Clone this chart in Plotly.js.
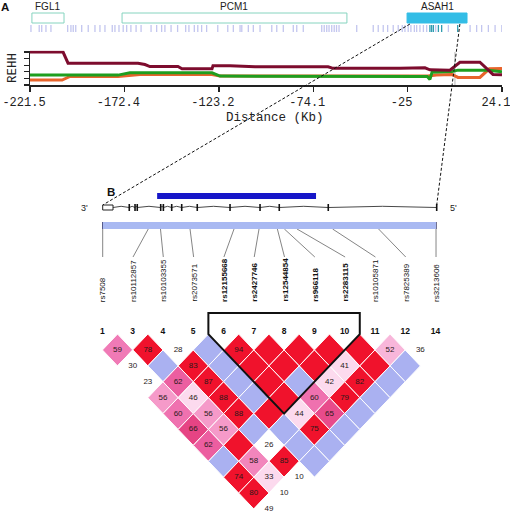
<!DOCTYPE html>
<html><head><meta charset="utf-8">
<script src="https://cdn.plot.ly/plotly-3.0.1.min.js"></script>
<style>html,body{margin:0;padding:0;background:#fff}#chart{width:510px;height:513px}</style>
</head><body><div id="chart"></div>
<script>
// ================= DATA =================
// Panel A: genes (kb from core)
const geneNames = ['FGL1', 'PCM1', 'ASAH1'];
const geneStartKb = [-220.5, -173.6, -25.3];
const geneEndKb = [-203.8, -56.6, 5.9];
const geneFilled = [false, false, true];
// SNP tick positions (kb)
const snpTickKb = [-221.0,-216.7,-215.4,-213.2,-210.6,-201.9,-200.2,-199.0,-197.7,-194.6,-191.2,-187.7,-185.1,-182.5,-178.7,-177.3,-175.2,-173.0,-171.2,-169.0,-166.3,-163.7,-158.5,-155.6,-153.0,-151.3,-148.1,-144.7,-140.5,-138.8,-136.0,-134.2,-132.2,-129.6,-123.8,-118.6,-115.7,-112.2,-111.3,-107.9,-105.3,-101.8,-95.7,-93.1,-89.7,-84.5,-82.7,-79.3,-69.7,-68.4,-67.1,-65.9,-64.5,-63.2,-62.0,-60.7,-51.5,-42.9,-40.3,-37.7,-35.4,-32.5,-29.9,-27.8,-26.4,-24.7,-23.3,-21.5,-20.3,-18.6,-16.8,-15.1,-10.4,-3.8,7.5,10.9,13.5,17.0,20.5,24.0];
const snpTickTypedKb = [-13.4, -12.5, -11.6, -9.0, -7.3, 1.05];
// Distance axis ticks
const tickKb = [-221.5, -172.4, -123.2, -74.1, -25, 24.1];
// REHH curves
const rehhMaroonKb = [-221.5,-204.3,-201.7,-165.3,-161.7,-159.1,-144.5,-142.4,-126.8,-126.3,-117.4,-107.0,-104.4,-66.4,-63.8,-29.0,-16.0,-13.4,-9.7,-3.0,2.2,12.6,19.4,24.1];
const rehhMaroon = [5.0,5.0,3.3,3.3,3.1,2.8,2.8,2.45,2.45,2.9,2.9,2.75,2.77,2.77,2.53,2.55,2.6,2.3,2.3,2.25,3.45,3.45,1.6,1.55];
const rehhGreenKb = [-221.5,-175.7,-169.5,-126.8,-122.6,-14.8,-13.4,-12.3,-1.9,1.2,16.8,24.1];
const rehhGreen = [1.5,1.5,1.85,1.85,1.35,1.3,0.85,1.95,2.05,2.25,2.25,2.0];
const rehhOrangeKb = [-221.5,-204.8,-200.7,-175.7,-164.3,-126.8,-122.6,-14.4,-10.0,-1.9,1.2,12.6,17.5,24.1];
const rehhOrange = [0.75,0.75,1.3,1.3,1.6,1.6,1.35,1.35,1.5,1.6,1.15,1.15,2.45,2.5];
const rehhTicks = [0, 1, 2, 3, 4, 5];
const coreSnpKb = -0.4;
const zoomRegionKb = [-23.8, 2.2];

// Panel B: ASAH1 gene structure (kb along gene, 3' -> 5')
const geneSpanKb = [0, 30.06];
const utrKb = [0, 0.93];
const exonKb = [2.39, 2.91, 3.11, 5.22, 5.46, 6.21, 7.11, 8.51, 11.46, 14.16, 15.89, 20.30, 30.06];
const blueBarKb = [4.9, 19.2];
const snpNames = ['rs7508','rs10112857','rs10103355','rs2073571','rs12155668','rs2427746','rs12544854','rs966118','rs2283115','rs10105871','rs7825389','rs3213606'];
const snpBold = [false,false,false,false,true,true,true,true,true,false,false,false];
const snpPosKb = [0, 4.1, 5.2, 7.86, 11.82, 14.07, 15.72, 16.35, 17.49, 20.69, 24.83, 30.0];
const markerNums = [1, 3, 4, 5, 6, 7, 8, 9, 10, 11, 12, 14];
// LD: row k (0-based) holds pairs (i, i+k+1); D' x100 (100 = not printed)
const ldDprime = [
  [59, 78, 28, 100, 94, 100, 100, 100, 100, 52, 36],
  [30, 100, 83, 100, 100, 100, 100, 41, 100, 100],
  [23, 62, 87, 100, 100, 100, 42, 82, 100],
  [56, 46, 88, 100, 100, 60, 79, 100],
  [60, 56, 88, 100, 44, 65, 100],
  [66, 56, 100, 100, 75, 100],
  [62, 100, 26, 100, 100],
  [100, 58, 85, 100],
  [74, 33, 10],
  [80, 10],
  [49]
];
// LOD >= 2 flag
const ldStrong = [
  [1,1,0,0,1,1,1,1,1,1,0],
  [0,0,1,0,1,1,1,1,1,0],
  [0,1,1,0,1,0,1,1,0],
  [1,1,1,0,1,1,1,0],
  [1,1,1,1,1,1,0],
  [1,1,0,0,1,0],
  [1,1,0,0,0],
  [0,1,1,0],
  [1,1,0],
  [1,0],
  [0]
];
const blockMarkers = [4, 8];

// ================= LAYOUT CONSTANTS =================
const W = 510, H = 513;
const X1_DOM = [30 / W, 502 / W];
const X1_RANGE = [tickKb[0], tickKb[tickKb.length - 1]];
const Y1_DOM = [1 - 85 / H, 1 - 50.7 / H];
const Y1_RANGE = [0, 5.2];
const X2_RANGE = [-3.382, 13.461];
const Y2_RANGE = [-5.626, 10.506];
const X3_RANGE = [-9.243, 36.657];
const Y3_RANGE = [H, 0];
const MONO = 'Liberation Mono, Courier New, monospace';
const SANS = 'Liberation Sans, Arial, sans-serif';
const RED = '#f0122c', BLUE = '#aab1f1';

const kbToPaper = kb => X1_DOM[0] + (kb - X1_RANGE[0]) / (X1_RANGE[1] - X1_RANGE[0]) * (X1_DOM[1] - X1_DOM[0]);
const geneKbToPaper = kb => (kb - X3_RANGE[0]) / (X3_RANGE[1] - X3_RANGE[0]);

function hex(c){return [parseInt(c.slice(1,3),16),parseInt(c.slice(3,5),16),parseInt(c.slice(5,7),16)];}
const pinkStops = [[30,'#fcdaee'],[46,'#fcdaee'],[52,'#f8b6da'],[56,'#f59ac9'],[59,'#f07ab6'],[62,'#ec5ea0'],[66,'#e64484'],[72,RED]];
function ldColor(d, strong){
  if (!strong) return d >= 100 ? BLUE : '#ffffff';
  if (d >= pinkStops[pinkStops.length-1][0]) return RED;
  if (d <= pinkStops[0][0]) return pinkStops[0][1];
  for (let s = 0; s < pinkStops.length - 1; s++){
    const [a, ca] = pinkStops[s], [b, cb] = pinkStops[s+1];
    if (d >= a && d <= b){
      const t = (d - a) / (b - a), A = hex(ca), B = hex(cb);
      return 'rgb(' + A.map((v,k)=>Math.round(v + (B[k]-v)*t)).join(',') + ')';
    }
  }
  return RED;
}

const traces = [];
const shapes = [];
const annotations = [];

// ---------- Panel A ----------
traces.push({x:[coreSnpKb, coreSnpKb], y:[rehhTicks[0], rehhTicks[rehhTicks.length-1]], xaxis:'x', yaxis:'y', mode:'lines', line:{color:'#cfcfcf', width:1.5}, hoverinfo:'skip'});
traces.push({x:rehhOrangeKb, y:rehhOrange, xaxis:'x', yaxis:'y', mode:'lines', line:{color:'#e8642c', width:3}, hoverinfo:'skip'});
traces.push({x:rehhGreenKb, y:rehhGreen, xaxis:'x', yaxis:'y', mode:'lines', line:{color:'#1f9e1f', width:3}, hoverinfo:'skip'});
traces.push({x:rehhMaroonKb, y:rehhMaroon, xaxis:'x', yaxis:'y', mode:'lines', line:{color:'#7d0c2e', width:3}, hoverinfo:'skip'});

function segs(xs, y0, y1){
  const X=[],Y=[];
  xs.forEach(v=>{X.push(v,v,null);Y.push(y0,y1,null);});
  return {X,Y};
}
let s1 = segs(snpTickKb, 25, 32);
traces.push({x:s1.X, y:s1.Y, xaxis:'x', yaxis:'y3', mode:'lines', line:{color:'#c3c6ef', width:1.3}, hoverinfo:'skip'});
let s2 = segs(snpTickTypedKb, 25, 32);
traces.push({x:s2.X, y:s2.Y, xaxis:'x', yaxis:'y3', mode:'lines', line:{color:'#2f9cb0', width:1.3}, hoverinfo:'skip'});

geneNames.forEach((g, k) => {
  shapes.push({type:'rect', xref:'x', yref:'y3', x0:geneStartKb[k], x1:geneEndKb[k], y0:13, y1:23,
    line:{color: geneFilled[k] ? '#33bde6' : '#86d4bf', width:1}, fillcolor: geneFilled[k] ? '#33bde6' : 'rgba(0,0,0,0)'});
  annotations.push({xref:'x', yref:'y3', x:(geneStartKb[k]+geneEndKb[k])/2, y:6.5, text:g, showarrow:false,
    font:{family:SANS, size:10, color:'#222'}, xanchor:'center', yanchor:'middle'});
});

annotations.push({xref:'paper', yref:'y3', x:13/W, y:68, text:'REHH', textangle:-90, showarrow:false,
  font:{family:MONO, size:12.5, color:'#222'}, xanchor:'center', yanchor:'middle'});
annotations.push({xref:'paper', yref:'y3', x:275/W, y:118, text:'Distance (Kb)', showarrow:false,
  font:{family:MONO, size:12.5, color:'#222'}, xanchor:'center', yanchor:'middle'});
annotations.push({xref:'paper', yref:'y3', x:5/W, y:7, text:'<b>A</b>', showarrow:false,
  font:{family:SANS, size:11.5, color:'#111'}, xanchor:'center', yanchor:'middle'});
annotations.push({xref:'paper', yref:'y3', x:111/W, y:191.5, text:'<b>B</b>', showarrow:false,
  font:{family:SANS, size:11.5, color:'#111'}, xanchor:'center', yanchor:'middle'});

// dashed zoom connectors
shapes.push({type:'line', xref:'paper', yref:'y3', x0:kbToPaper(zoomRegionKb[0]), y0:24, x1:geneKbToPaper(geneSpanKb[0]), y1:205,
  line:{color:'#111', width:1, dash:'3px,2px'}, layer:'above'});
shapes.push({type:'line', xref:'paper', yref:'y3', x0:kbToPaper(zoomRegionKb[1]), y0:24, x1:geneKbToPaper(geneSpanKb[1]), y1:205,
  line:{color:'#111', width:1, dash:'3px,2px'}, layer:'above'});

// ---------- Panel B ----------
const GENE_Y = 207.5;
shapes.push({type:'rect', xref:'x3', yref:'y3', x0:blueBarKb[0], x1:blueBarKb[1], y0:193, y1:199, line:{width:0}, fillcolor:'#1616c8'});
// intron line with small hats
{
  const pts = [utrKb[1]].concat(exonKb);
  const X=[], Y=[];
  for (let k = 0; k < pts.length - 1; k++){
    X.push(pts[k], (pts[k]+pts[k+1])/2); Y.push(GENE_Y, GENE_Y - 1.2);
  }
  X.push(pts[pts.length-1]); Y.push(GENE_Y);
  traces.push({x:X, y:Y, xaxis:'x3', yaxis:'y3', mode:'lines', line:{color:'#333', width:0.9}, hoverinfo:'skip'});
}
shapes.push({type:'rect', xref:'x3', yref:'y3', x0:utrKb[0], x1:utrKb[1], y0:205, y1:210, line:{color:'#222', width:1}, fillcolor:'#fff'});
let s3 = segs(exonKb, 204, 211);
traces.push({x:s3.X, y:s3.Y, xaxis:'x3', yaxis:'y3', mode:'lines', line:{color:'#111', width:1.6}, hoverinfo:'skip'});
annotations.push({xref:'x3', yref:'y3', x:-1.6, y:208, text:"3'", showarrow:false, font:{family:SANS, size:9, color:'#222'}});
annotations.push({xref:'x3', yref:'y3', x:31.6, y:208, text:"5'", showarrow:false, font:{family:SANS, size:9, color:'#222'}});

// SNP bar
shapes.push({type:'rect', xref:'x3', yref:'y3', x0:snpPosKb[0], x1:snpPosKb[snpPosKb.length-1], y0:222, y1:229, line:{width:0}, fillcolor:'#a9b9f2'});
let s4 = segs(snpPosKb, 222, 229);
traces.push({x:s4.X, y:s4.Y, xaxis:'x3', yaxis:'y3', mode:'lines', line:{color:'#1c1c4c', width:1.2}, hoverinfo:'skip'});
// label positions evenly spaced between first and last SNP
const nS = snpPosKb.length;
const labelKb = snpPosKb.map((_, i) => snpPosKb[0] + i * (snpPosKb[nS-1] - snpPosKb[0]) / (nS - 1));
{
  const X=[], Y=[];
  snpPosKb.forEach((p, i) => { X.push(p, labelKb[i], null); Y.push(229, 257, null); });
  traces.push({x:X, y:Y, xaxis:'x3', yaxis:'y3', mode:'lines', line:{color:'#666', width:0.8}, hoverinfo:'skip'});
}
snpNames.forEach((n, i) => {
  annotations.push({xref:'x3', yref:'y3', x:labelKb[i], y:303, text: snpBold[i] ? '<b>'+n+'</b>' : n, textangle:-90,
    showarrow:false, xanchor:'center', yanchor:'bottom', font:{family:SANS, size:8, color:'#111'}, borderpad:0});
});

// ---------- LD plot ----------
const txX=[], txY=[], txT=[];
ldDprime.forEach((row, k) => {
  row.forEach((d, i) => {
    const j = i + k + 1;
    const cx = (i + j) / 2, cy = -(j - i) / 2;
    shapes.push({type:'path', xref:'x2', yref:'y2',
      path:`M ${cx-0.5},${cy} L ${cx},${cy+0.5} L ${cx+0.5},${cy} L ${cx},${cy-0.5} Z`,
      fillcolor: ldColor(d, ldStrong[k][i]), line:{color:'#ffffff', width:1}, layer:'below'});
    if (d < 100){ txX.push(cx); txY.push(cy); txT.push(String(d)); }
  });
});
traces.push({x:txX, y:txY, text:txT, xaxis:'x2', yaxis:'y2', mode:'text', textposition:'middle center',
  textfont:{family:SANS, size:8, color:'#2a1a1a'}, hoverinfo:'skip'});
traces.push({x:markerNums.map((_, i) => i), y:markerNums.map(() => 0.07), text:markerNums.map(m => '<b>'+m+'</b>'),
  xaxis:'x2', yaxis:'y2', mode:'text', textposition:'middle center', textfont:{family:SANS, size:8.5, color:'#111'}, hoverinfo:'skip'});
{
  const a = blockMarkers[0], b = blockMarkers[1];
  const mid = (a + b) / 2, depth = -(b - a) / 2 - 0.5, top = 0.66;
  shapes.push({type:'path', xref:'x2', yref:'y2',
    path:`M ${a-0.5},${top} L ${a-0.5},0 L ${mid},${depth} L ${b+0.5},0 L ${b+0.5},${top} Z`,
    line:{color:'#111', width:2}, fillcolor:'rgba(0,0,0,0)', layer:'above'});
}

const hidden = {visible:false, showgrid:false, zeroline:false, fixedrange:true};
const layout = {
  width:W, height:H, margin:{l:0, r:0, t:0, b:0}, paper_bgcolor:'#ffffff', plot_bgcolor:'rgba(0,0,0,0)',
  showlegend:false,
  xaxis:{domain:X1_DOM, range:X1_RANGE, tickvals:tickKb, ticktext:tickKb.map(String), ticks:'outside', ticklen:5,
    tickwidth:1.5, tickcolor:'#222', showline:true, linecolor:'#222', linewidth:1.5, showgrid:false, zeroline:false,
    tickfont:{family:MONO, size:12, color:'#222'}, ticklabelshift:-6, ticklabeloverflow:'allow', anchor:'y', fixedrange:true},
  yaxis:{domain:Y1_DOM, range:Y1_RANGE, tickvals:rehhTicks, ticks:'outside', ticklen:5, tickwidth:1.2, tickcolor:'#222',
    showticklabels:false, showline:true, linecolor:'#222', linewidth:1.5, showgrid:false, zeroline:false, anchor:'x', fixedrange:true},
  xaxis2:Object.assign({domain:[0,1], range:X2_RANGE, anchor:'y2'}, hidden),
  yaxis2:Object.assign({domain:[0,1], range:Y2_RANGE, anchor:'x2'}, hidden),
  xaxis3:Object.assign({domain:[0,1], range:X3_RANGE, anchor:'y3'}, hidden),
  yaxis3:Object.assign({domain:[0,1], range:Y3_RANGE, anchor:'x3'}, hidden),
  shapes, annotations
};
Plotly.newPlot('chart', traces, layout, {staticPlot:true, displayModeBar:false});
</script></body></html>
